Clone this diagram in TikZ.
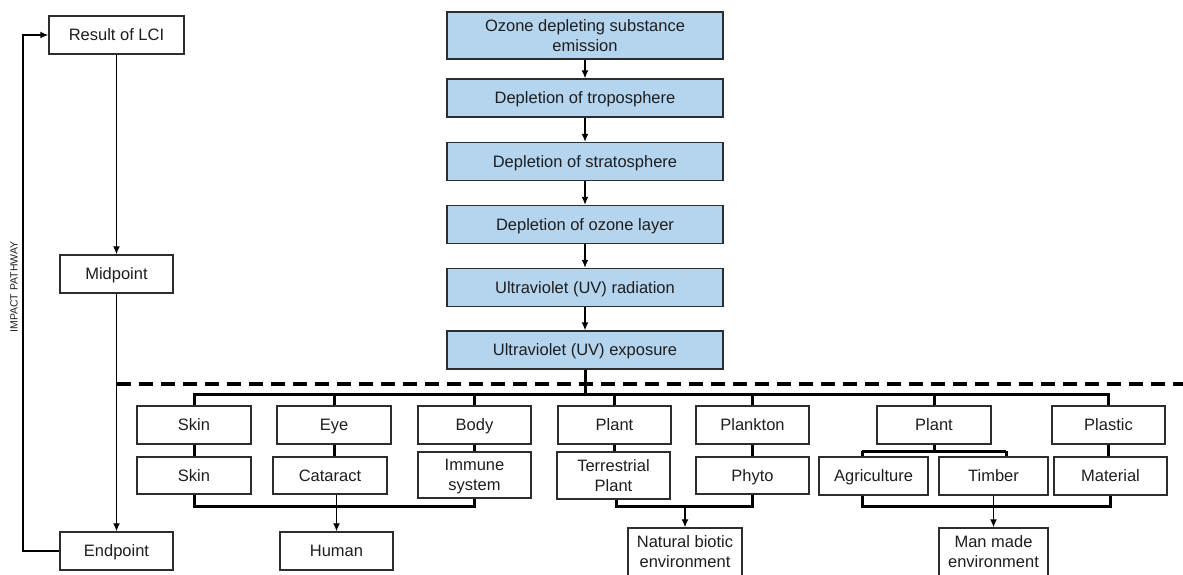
\documentclass[tikz,border=0pt]{standalone}
\usepackage{fontspec}
\setmainfont{Liberation Sans}
\usetikzlibrary{arrows.meta}
\definecolor{boxblue}{RGB}{181,213,239}
\definecolor{boxedge}{RGB}{45,45,45}
\definecolor{inktext}{RGB}{30,30,30}

\begin{document}
\begin{tikzpicture}[x=1pt,y=-1pt,
  box/.style={draw=boxedge, line width=1.4pt, fill=white, text=inktext,
    minimum width=#1, minimum height=38pt, inner sep=0pt, align=center,
    text height=11.8pt, text depth=0pt,
    font=\fontsize{16.5}{20}\selectfont},
  box/.default=113pt,
  twoline/.style={text height=31.8pt},
  chainbox/.style={box=276pt, fill=boxblue},
  link/.style={draw=black, line width=1.35pt, -{Latex[length=8pt,width=7pt]}},
  bracket/.style={draw=black, line width=3pt},
  divider/.style={draw=black, line width=4pt, dash pattern=on 14pt off 8pt}
]
\useasboundingbox (0,0) rectangle (1183,574);

% impact pathway column
\node[box=135pt] (lci) at (116.5,35) {Result of LCI};
\node[box] (mid) at (116.5,274) {Midpoint};
\node[box] (endp) at (116.5,551) {Endpoint};
\node[rotate=90, text=inktext, font=\fontsize{10.5}{12}\selectfont] (ip) at (14,287) {IMPACT PATHWAY};
\coordinate (loop) at (23,0);

\draw[link] (lci) -- (mid);
\draw[link] (mid) -- (endp);
\draw[link] (endp.west) -- (endp.west -| loop) -- (lci.west -| loop) -- (lci.west);

% cause-effect chain
\node[chainbox, twoline, minimum height=47pt] (c1) at (585,35.5) {Ozone depleting substance\\emission};
\node[chainbox] (c2) at (585,98) {Depletion of troposphere};
\node[chainbox] (c3) at (585,161.5) {Depletion of stratosphere};
\node[chainbox] (c4) at (585,224.5) {Depletion of ozone layer};
\node[chainbox] (c5) at (585,287.5) {Ultraviolet (UV) radiation};
\node[chainbox] (c6) at (585,350) {Ultraviolet (UV) exposure};
\foreach \a/\b in {c1/c2,c2/c3,c3/c4,c4/c5,c5/c6}
  \draw[link] (\a) -- (\b);

% midpoint / endpoint divider
\coordinate (dashL) at (117,384);
\coordinate (dashR) at (1190,384);
\draw[divider] (dashL) -- (dashR);

% affected areas
\node[box=114pt] (skinA) at (194,425) {Skin};
\node[box=114pt, minimum height=37pt] (skinB) at (194,475.5) {Skin};
\node[box=114pt] (eye) at (334,425) {Eye};
\node[box=114pt, minimum height=37pt] (cat) at (330,475.5) {Cataract};
\node[box] (body) at (474.5,425) {Body};
\node[box, twoline, minimum height=46pt] (imm) at (474.5,475) {Immune\\system};
\node[box] (plantA) at (614.5,425) {Plant};
\node[box, twoline, minimum height=47pt] (terr) at (613.5,475.5) {Terrestrial\\Plant};
\node[box] (plank) at (752.5,425) {Plankton};
\node[box, minimum height=37pt] (phyto) at (752.5,475.5) {Phyto};
\node[box=114pt] (plantB) at (934,425) {Plant};
\node[box=109pt] (agri) at (873.5,476) {Agriculture};
\node[box=109pt] (timber) at (993.5,476) {Timber};
\node[box] (plastic) at (1108.5,425) {Plastic};
\node[box] (mat) at (1110.5,476) {Material};

% endpoints
\node[box] (human) at (336.5,551) {Human};
\node[box=114pt, twoline, minimum height=48pt] (nat) at (685,552) {Natural biotic\\environment};
\node[box=109pt, twoline, minimum height=48pt] (man) at (993.5,552) {Man made\\environment};

% distribution from UV exposure
\coordinate (top) at (0,394);
\draw[bracket] (c6.south) -- (c6.south |- top);
\draw[bracket] ([xshift=-1.5pt]skinA.north |- top) -- ([xshift=1.5pt]plastic.north |- top);
\foreach \n in {skinA,eye,body,plantA,plank,plantB,plastic}
  \draw[bracket] (\n.north) -- (\n.north |- top);

% area to effect
\draw[bracket] (skinA) -- (skinB);
\draw[bracket] (eye.south) -- (eye.south |- cat.north);
\draw[bracket] (body) -- (imm);
\draw[bracket] (plantA.south) -- (plantA.south |- terr.north);
\draw[bracket] (plank) -- (phyto);
\draw[bracket] (plastic.south) -- (plastic.south |- mat.north);
\coordinate (split) at (0,451);
\draw[bracket] (plantB.south) -- (plantB.south |- split);
\draw[bracket] ([xshift=-11.5pt]agri.north |- split) -- ([xshift=12.5pt]timber.north |- split);
\draw[bracket] ([xshift=-11.5pt]agri.north |- split) -- ([xshift=-11.5pt]agri.north);
\draw[bracket] ([xshift=12.5pt]timber.north |- split) -- ([xshift=12.5pt]timber.north);

% effects gathered into endpoints
\coordinate (bot) at (0,506);
\draw[bracket] (skinB.south) -- (skinB.south |- bot) -- (imm.south |- bot) -- (imm.south);
\draw[link] (human.north |- cat.south) -- (human.north);
\draw[bracket] ([xshift=2.5pt]terr.south) -- ([xshift=2.5pt]terr.south |- bot) -- (phyto.south |- bot) -- (phyto.south);
\draw[link] (nat.north |- bot) -- (nat.north);
\draw[bracket] ([xshift=-11.5pt]agri.south) -- ([xshift=-11.5pt]agri.south |- bot) -- (mat.south |- bot) -- (mat.south);
\draw[link] (timber.south) -- (man.north);
\end{tikzpicture}
\end{document}
